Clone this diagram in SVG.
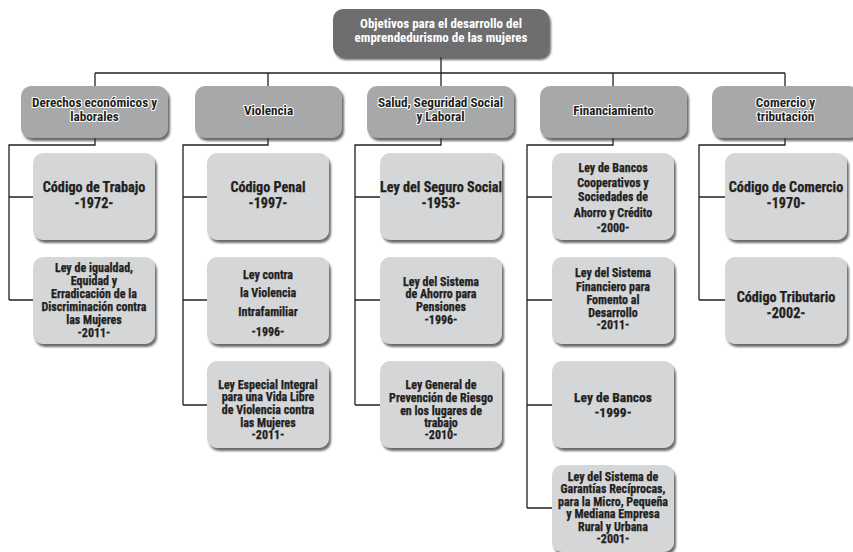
<svg xmlns="http://www.w3.org/2000/svg" width="853" height="552" viewBox="0 0 853 552">
<defs>
<filter id="sh" x="-10%" y="-10%" width="125%" height="130%">
<feDropShadow dx="2" dy="3" stdDeviation="1.3" flood-color="#3a3a3a" flood-opacity="0.75"/>
</filter>
<style>
text{font-family:"Liberation Sans Narrow","Roboto Condensed","DejaVu Sans Condensed","Liberation Sans",sans-serif;font-stretch:condensed;font-weight:bold;font-size:12px;text-anchor:middle;}
.top rect{fill:#6e6e70;filter:url(#sh);}
.top text{fill:#ffffff;font-size:13px;}
.hd rect{fill:#a7a8aa;filter:url(#sh);}
.hd text{fill:#231f20;stroke:#ffffff;stroke-width:2;paint-order:stroke;stroke-linejoin:round;font-size:13.2px;}
.ch rect{fill:#d5d6d8;filter:url(#sh);}
.ch text{fill:#231f20;stroke:#231f20;stroke-width:0.25;}
.ch text.big{font-size:14.2px;}
.ch text.mid{font-size:13.5px;}
#connectors path{fill:none;stroke:#231f20;stroke-width:1.3;}
</style>
</defs>
<rect width="853" height="552" fill="#ffffff"/>
<g id="connectors">
<path d="M441 57V73M95 73H785M95 73V86M268 73V86M441 73V86M613 73V86M785 73V86"/>
<path d="M95 138V145H9V300M9 197H33M9 300H33"/>
<path d="M268 138V145H183V405M183 197H207M183 300H207M183 405H207"/>
<path d="M441 138V145H355V405M355 197H380M355 300H380M355 405H380"/>
<path d="M613 138V145H527V508M527 197H552M527 300H552M527 405H552M527 508H552"/>
<path d="M785 138V145H699V300M699 197H725M699 300H725"/>
</g>
<g id="n-root" class="top"><rect x="333" y="9" width="216" height="48" rx="10"/>
<text x="441" y="27.5">Objetivos para el desarrollo del</text><text x="441" y="41.5">emprendedurismo de las mujeres</text></g>

<g id="h-derechos" class="hd"><rect x="21" y="86" width="147" height="52" rx="10"/>
<text x="94.5" y="106.5">Derechos económicos y</text><text x="94.5" y="120.5">laborales</text></g>
<g id="h-violencia" class="hd"><rect x="195" y="86" width="147" height="52" rx="10"/>
<text x="268.5" y="114.5">Violencia</text></g>
<g id="h-salud" class="hd"><rect x="367" y="86" width="147" height="52" rx="10"/>
<text x="440.5" y="106.5">Salud, Seguridad Social</text><text x="440.5" y="120.5">y Laboral</text></g>
<g id="h-financiamiento" class="hd"><rect x="540" y="86" width="147" height="52" rx="10"/>
<text x="613.5" y="114.5">Financiamiento</text></g>
<g id="h-comercio" class="hd"><rect x="712" y="86" width="147" height="52" rx="10"/>
<text x="785.5" y="106.5">Comercio y</text><text x="785.5" y="120.5">tributación</text></g>

<g id="c1-1" class="ch"><rect x="33" y="153" width="122" height="87" rx="10"/>
<text class="big" x="94" y="192">Código de Trabajo</text><text class="big" x="94" y="208">-1972-</text></g>
<g id="c1-2" class="ch"><rect x="33" y="257" width="122" height="87" rx="10"/>
<text x="94" y="272">Ley de igualdad,</text><text x="94" y="285">Equidad y</text><text x="94" y="298">Erradicación de la</text><text x="94" y="311">Discriminación contra</text><text x="94" y="324">las Mujeres</text><text x="94" y="337">-2011-</text></g>

<g id="c2-1" class="ch"><rect x="207" y="153" width="122" height="87" rx="10"/>
<text class="big" x="268" y="192">Código Penal</text><text class="big" x="268" y="208">-1997-</text></g>
<g id="c2-2" class="ch"><rect x="207" y="257" width="122" height="87" rx="10"/>
<text x="268" y="279">Ley contra</text><text x="268" y="297">la Violencia</text><text x="268" y="316">Intrafamiliar</text><text x="268" y="336">-1996-</text></g>
<g id="c2-3" class="ch"><rect x="207" y="361" width="122" height="87" rx="10"/>
<text x="268" y="389">Ley Especial Integral</text><text x="268" y="401">para una Vida Libre</text><text x="268" y="414">de Violencia contra</text><text x="268" y="427">las Mujeres</text><text x="268" y="439">-2011-</text></g>

<g id="c3-1" class="ch"><rect x="380" y="153" width="122" height="87" rx="10"/>
<text class="big" x="441" y="192">Ley del Seguro Social</text><text class="big" x="441" y="208">-1953-</text></g>
<g id="c3-2" class="ch"><rect x="380" y="257" width="122" height="87" rx="10"/>
<text x="441" y="286">Ley del Sistema</text><text x="441" y="298">de Ahorro para</text><text x="441" y="311">Pensiones</text><text x="441" y="324">-1996-</text></g>
<g id="c3-3" class="ch"><rect x="380" y="361" width="122" height="87" rx="10"/>
<text x="441" y="389">Ley General de</text><text x="441" y="402">Prevención de Riesgo</text><text x="441" y="415">en los lugares de</text><text x="441" y="427">trabajo</text><text x="441" y="439">-2010-</text></g>

<g id="c4-1" class="ch"><rect x="552" y="153" width="122" height="87" rx="10"/>
<text x="613" y="172">Ley de Bancos</text><text x="613" y="187">Cooperativos y</text><text x="613" y="201">Sociedades de</text><text x="613" y="217">Ahorro y Crédito</text><text x="613" y="232">-2000-</text></g>
<g id="c4-2" class="ch"><rect x="552" y="257" width="122" height="87" rx="10"/>
<text x="613" y="277">Ley del Sistema</text><text x="613" y="291">Financiero para</text><text x="613" y="304">Fomento al</text><text x="613" y="317">Desarrollo</text><text x="613" y="329">-2011-</text></g>
<g id="c4-3" class="ch"><rect x="552" y="361" width="122" height="87" rx="10"/>
<text class="mid" x="613" y="401.5">Ley de Bancos</text><text class="mid" x="613" y="416.5">-1999-</text></g>
<g id="c4-4" class="ch"><rect x="552" y="465" width="122" height="87" rx="10"/>
<text x="613" y="481">Ley del Sistema de</text><text x="613" y="493">Garantías Recíprocas,</text><text x="613" y="506">para la Micro, Pequeña</text><text x="613" y="518">y Mediana Empresa</text><text x="613" y="531">Rural y Urbana</text><text x="613" y="543">-2001-</text></g>

<g id="c5-1" class="ch"><rect x="725" y="153" width="122" height="87" rx="10"/>
<text class="big" x="786" y="192">Código de Comercio</text><text class="big" x="786" y="208">-1970-</text></g>
<g id="c5-2" class="ch"><rect x="725" y="257" width="122" height="87" rx="10"/>
<text class="big" x="786" y="302">Código Tributario</text><text class="big" x="786" y="318">-2002-</text></g>
</svg>
